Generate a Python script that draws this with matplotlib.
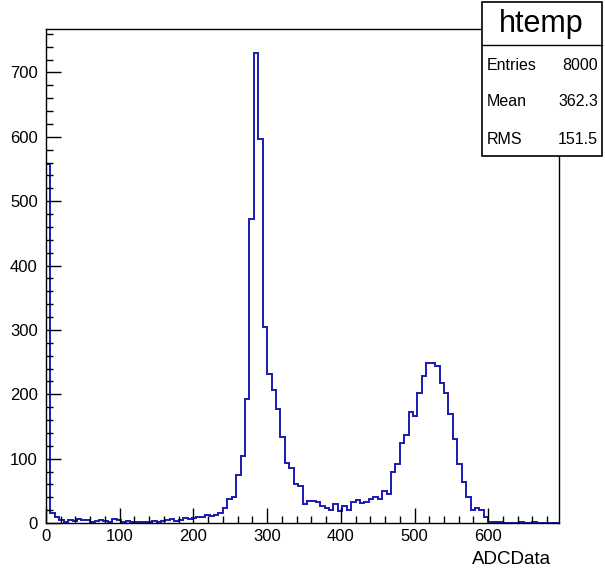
import numpy as np
import matplotlib
matplotlib.use("Agg")
import matplotlib.pyplot as plt
from matplotlib.patches import Rectangle
from matplotlib.lines import Line2D
from matplotlib.ticker import MultipleLocator

plt.rcParams['font.family'] = ['Liberation Sans', 'DejaVu Sans']

# ---- data (bin contents, bin width 6) ----
x_min = 0
x_max = 696
bin_width = 6
counts = [
    558, 16, 10, 5, 2, 4, 3, 6, 5, 4,
    2, 3, 5, 3, 2, 6, 4, 2, 3, 2,
    1, 2, 2, 1, 3, 2, 3, 4, 6, 3,
    5, 7, 6, 8, 10, 10, 12, 11, 13, 15,
    23, 38, 40, 75, 104, 193, 473, 731, 596, 305,
    232, 207, 177, 134, 93, 86, 61, 57, 30, 34,
    34, 32, 27, 23, 20, 30, 18, 27, 20, 32,
    36, 31, 33, 37, 41, 38, 50, 45, 80, 92,
    125, 137, 172, 166, 202, 229, 249, 248, 244, 218,
    202, 170, 130, 92, 64, 41, 20, 23, 20, 10,
    1, 1, 1, 0, 0, 0, 0, 1, 0, 0,
    1, 0, 0, 0, 0, 0,
]
x_title = "ADCData"
hist_name = "htemp"
stats_labels = ["Entries", "Mean", "RMS"]
stats_values = ["8000", "362.3", "151.5"]

edges = x_min + bin_width * np.arange(len(counts) + 1)

W, H = 605, 570
fig = plt.figure(figsize=(W / 100, H / 100), dpi=100)
ax = fig.add_axes([46 / W, 1 - 523 / H, (559 - 46) / W, (523 - 29) / H])

ax.stairs(counts, edges, color='#1a1ab0', linewidth=1.4, baseline=0)

ax.set_xlim(x_min, x_max)
ax.set_ylim(0, 1.05 * max(counts))

ax.xaxis.set_major_locator(MultipleLocator(100))
ax.xaxis.set_minor_locator(MultipleLocator(20))
ax.yaxis.set_major_locator(MultipleLocator(100))
ax.yaxis.set_minor_locator(MultipleLocator(20))
ax.tick_params(which='both', direction='in', top=False, right=False,
               width=1.0, colors='black', labelsize=12)
ax.tick_params(which='major', length=10.5)
ax.tick_params(which='minor', length=5.3)
ax.tick_params(axis='y', which='major', pad=6)
ax.tick_params(axis='x', which='major', pad=4)
for s in ax.spines.values():
    s.set_linewidth(1.0)

fig.text(551 / W, 1 - 560 / H, x_title, ha='right', va='center', fontsize=13.5)

# ---- stats box ----
bl, br = 482 / W, 602 / W
bt, bb = 1 - 2 / H, 1 - 156 / H
sep = 1 - 45 / H
fig.add_artist(Rectangle((bl, bb), br - bl, bt - bb, transform=fig.transFigure,
                         facecolor='white', edgecolor='black', linewidth=1.2, zorder=5))
fig.add_artist(Line2D([bl, br], [sep, sep], transform=fig.transFigure,
                      color='black', linewidth=1.0, zorder=6))
fig.text(541 / W, 1 - 24 / H, hist_name, ha='center', va='center', fontsize=22, zorder=7)
rows_y = [65, 102, 139]
for lab, val, yy in zip(stats_labels, stats_values, rows_y):
    fig.text(487 / W, 1 - yy / H, lab, ha='left', va='center', fontsize=11.5, zorder=7)
    fig.text(598 / W, 1 - yy / H, val, ha='right', va='center', fontsize=11.5, zorder=7)

fig.savefig("out.png", dpi=100)
